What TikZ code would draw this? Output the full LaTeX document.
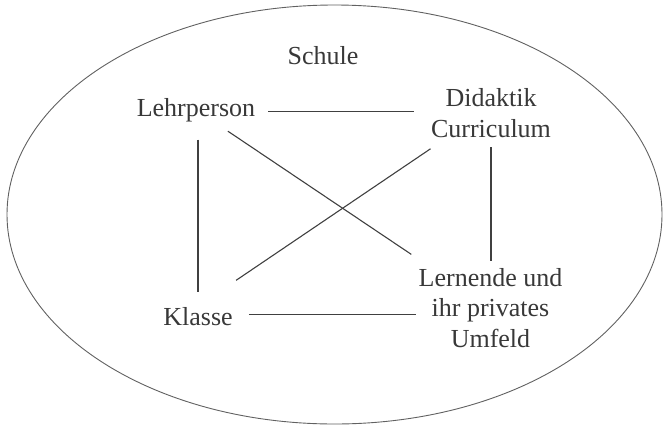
\documentclass[tikz,border=0pt]{standalone}
\usepackage{fontspec}
\setmainfont{Liberation Serif}
\usepackage{tikz}
\definecolor{inktext}{gray}{0.22}
\definecolor{inkline}{gray}{0.25}
\definecolor{rimline}{gray}{0.38}

\begin{document}
\begin{tikzpicture}[x=1pt, y=-1pt,
		label/.style={inner sep=0pt, anchor=base, text=inktext, align=center,
			font=\fontsize{26}{30.5}\selectfont},
		link/.style={draw=inkline, line width=1.1pt}]
			\useasboundingbox (0,0) rectangle (663,426);
			% Schule: the outer ellipse
			\draw[rimline, line width=0.9pt] (334.5,214.5) ellipse [x radius=327.5, y radius=209.5];
			\node[label] (schule) at (323,64) {Schule};

			% four corners (base = last line)
			\node[label] (lehr) at (196,116) {Lehrperson};
			\node[label] (did) at (491,137) {Didaktik\\Curriculum};
			\node[label] (kla) at (198,325) {Klasse};
			\node[label] (lern) at (490.5,347) {Lernende und\\ihr privates\\Umfeld};

			% sides
			\draw[link] ([xshift=13pt,yshift=-2pt]lehr.east) -- ([xshift=-17pt,yshift=-2pt]lehr.east -| did.west);
			\draw[link] ([xshift=16pt,yshift=2pt]kla.east) -- ([xshift=-2pt,yshift=2pt]kla.east -| lern.west);
			\draw[link] ([yshift=-18pt]lehr.south -| kla.north) -- ([yshift=15pt]kla.north);
			\draw[link] ([yshift=-10pt]did.south) -- ([yshift=7pt]did.south |- lern.north);

			% diagonals
			\draw[link, shorten <=17pt, shorten >=24pt] (lehr) -- (lern);
			\draw[link, shorten <=73pt, shorten >=46pt] ([yshift=5pt]did.center) -- ([yshift=10pt]kla.center);

		\end{tikzpicture}
\end{document}
